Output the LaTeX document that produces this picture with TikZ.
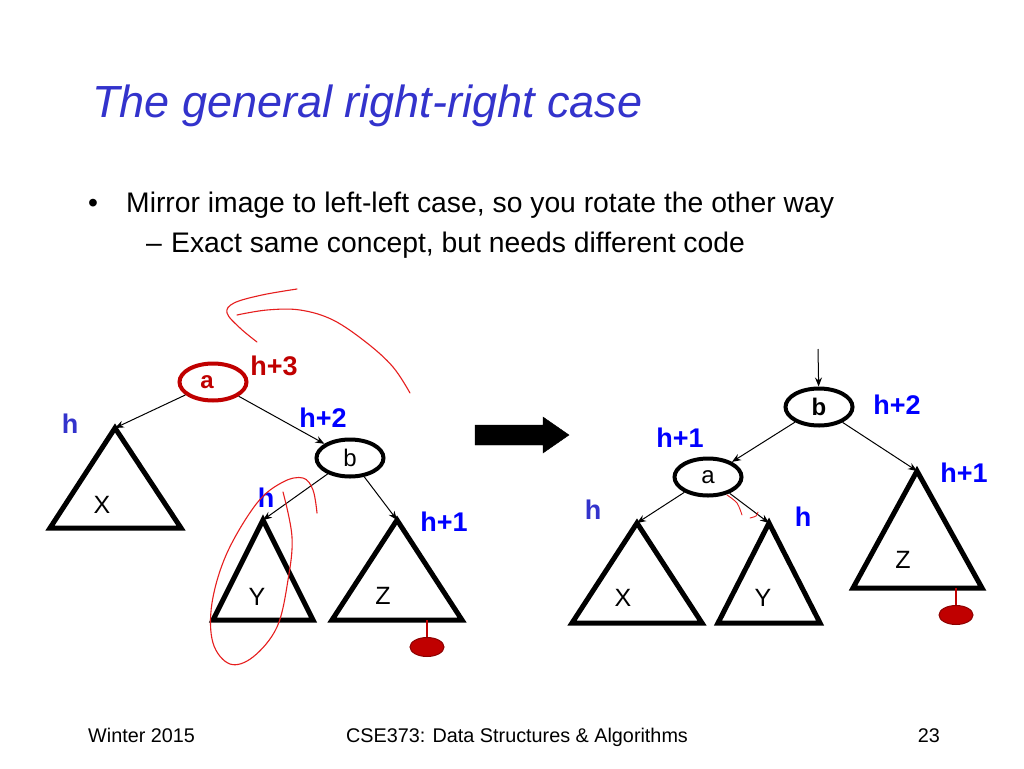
\documentclass[tikz,border=0pt]{standalone}
\usepackage{fontspec}
\setmainfont{Liberation Sans}
\usetikzlibrary{shapes.geometric,arrows.meta}
\definecolor{titleblue}{RGB}{51,51,204}
\definecolor{hblue}{RGB}{0,0,255}
\definecolor{hpurple}{RGB}{51,51,204}
\definecolor{darkred}{RGB}{192,0,0}
\definecolor{penred}{RGB}{230,30,30}
\tikzset{
  treenode/.style={ellipse,draw=black,line width=4pt,minimum width=67pt,minimum height=37pt,inner sep=0pt,font=\fontsize{24}{24}\selectfont},
  rootnode/.style={treenode,draw=darkred,text=darkred,font=\fontsize{24}{24}\selectfont\bfseries},
  subtree/.style={draw=black,line width=5pt,line join=miter},
  edge/.style={line width=1pt,-{Stealth[length=9pt,width=7pt]}},
  hlabel/.style={font=\fontsize{27}{27}\selectfont\bfseries,text=hblue,inner sep=0pt},
  hplabel/.style={hlabel,text=hpurple},
  hrlabel/.style={hlabel,text=darkred},
  treeletter/.style={font=\fontsize{25}{25}\selectfont,inner sep=0pt},
  pinball/.style={ellipse,draw={rgb,255:red,140;green,0;blue,0},line width=1pt,fill=darkred,minimum width=34pt,minimum height=19pt,inner sep=0pt},
  pinstem/.style={draw=darkred,line width=2.5pt},
  pen/.style={draw=penred,line width=1.1pt,line cap=round},
  bodytext/.style={font=\fontsize{28.3}{28.3}\selectfont,anchor=base west,inner sep=0pt},
  foot/.style={font=\fontsize{19.8}{19.8}\selectfont,anchor=base,inner sep=0pt}
}
\begin{document}
\begin{tikzpicture}[x=1pt,y=-1pt]
\useasboundingbox[fill=white] (0,0) rectangle (1024,768);

% title and bullets
\node[anchor=base west,inner sep=0pt,font=\fontsize{45}{45}\selectfont\itshape,text=titleblue] (title) at (92,117) {The general right-right case};
\node[bodytext] (bul1) at (88,212) {\textbullet};
\node[bodytext] (txt1) at (126,212) {Mirror image to left-left case, so you rotate the other way};
\node[bodytext] (bul2) at (146,252) {--};
\node[bodytext] (txt2) at (171,252) {Exact same concept, but needs different code};

% ---------- left tree ----------
\node[rootnode,text depth=0pt] (La) at (213,382) {\makebox[0pt]{\hspace*{-12pt}a}};
\node[treenode] (Lb) at (350,458) {b};
\coordinate (LXt) at (115,428);
\coordinate (LYt) at (263,520);
\coordinate (LZt) at (397,520);
\draw[subtree] (LXt) -- (181,528) -- (50,528) -- cycle;
\draw[subtree] (LYt) -- (313,620) -- (213,620) -- cycle;
\draw[subtree] (LZt) -- (462,620) -- (332,620) -- cycle;
\node[treeletter] (LX) at (102,505) {X};
\node[treeletter] (LY) at (257,597) {Y};
\node[treeletter] (LZ) at (383,596) {Z};
\draw[edge] (La) -- (LXt);
\draw[edge] (La) -- (Lb);
\draw[edge] (Lb) -- (LYt);
\draw[edge] (Lb) -- (LZt);
\node[hrlabel] (Lh3) at (274,366) {h+3};
\node[hplabel] (Lh0) at (70,424) {h};
\node[hlabel] (Lh2) at (323,418) {h+2};
\node[hlabel] (Lhy) at (266,498) {h};
\node[hlabel] (Lh1) at (444,522) {h+1};
\node[pinball] (Lpin) at (427,647) {};
\coordinate (Lpinbase) at (427,620);
\draw[pinstem] (Lpinbase) -- (Lpin.north);

% hand-drawn red marks (left)
\draw[pen] plot[smooth,tension=0.6] coordinates {(297,289) (262,295) (234,303) (227,313) (240,328) (257,342)};
\draw[pen] plot[smooth,tension=0.6] coordinates {(237,315) (267,310) (300,310) (333,320) (367,343) (393,367) (410,393)};
\draw[pen] plot[smooth,tension=0.6] coordinates {(283,492) (292,537) (288,580) (277,627) (253,657) (230,664) (213,643) (212,603) (227,553) (257,503) (283,482) (303,478) (313,490) (317,513)};

% big arrow
\draw[fill=black] (475,425) -- (543,425) -- (543,417) -- (569,435) -- (543,453) -- (543,445) -- (475,445) -- cycle;

% ---------- right tree ----------
\node[treenode,font=\fontsize{24}{24}\selectfont\bfseries] (Rb) at (819,407) {b};
\node[treenode] (Ra) at (708,477) {a};
\coordinate (Rtop) at (818,349);
\draw[edge] (Rtop) -- (Rb);
\coordinate (RXt) at (637,523);
\coordinate (RYt) at (769,523);
\coordinate (RZt) at (917,471);
\draw[subtree] (RXt) -- (702,623) -- (572,623) -- cycle;
\draw[subtree] (RYt) -- (820,623) -- (718,623) -- cycle;
\draw[subtree] (RZt) -- (982,588) -- (853,588) -- cycle;
\node[treeletter] (RX) at (623,598) {X};
\node[treeletter] (RY) at (763,598) {Y};
\node[treeletter] (RZ) at (903,560) {Z};
\draw[edge] (Rb) -- (Ra);
\draw[edge] (Rb) -- (RZt);
\draw[edge] (Ra) -- (RXt);
\draw[edge] (Ra) -- (RYt);
\node[hlabel] (Rh2) at (897,405) {h+2};
\node[hlabel] (Rh1a) at (680,438) {h+1};
\node[hlabel] (Rh1z) at (964,473) {h+1};
\node[hplabel] (Rhx) at (593,510) {h};
\node[hlabel] (Rhy) at (803,517) {h};
\node[pinball] (Rpin) at (956,615) {};
\coordinate (Rpinbase) at (956,588);
\draw[pinstem] (Rpinbase) -- (Rpin.north);

% hand-drawn red marks (right)
\draw[pen,line width=0.9pt] plot[smooth] coordinates {(727,495) (737,503) (742,515)};
\draw[pen,line width=0.9pt] plot[smooth] coordinates {(750,518) (756,516) (758,512)};

% footer
\node[foot,anchor=base west] (f1) at (88,742) {Winter 2015};
\node[foot] (f2) at (517,742) {CSE373: Data Structures \& Algorithms};
\node[foot,anchor=base east] (f3) at (940,742) {23};
\end{tikzpicture}
\end{document}
